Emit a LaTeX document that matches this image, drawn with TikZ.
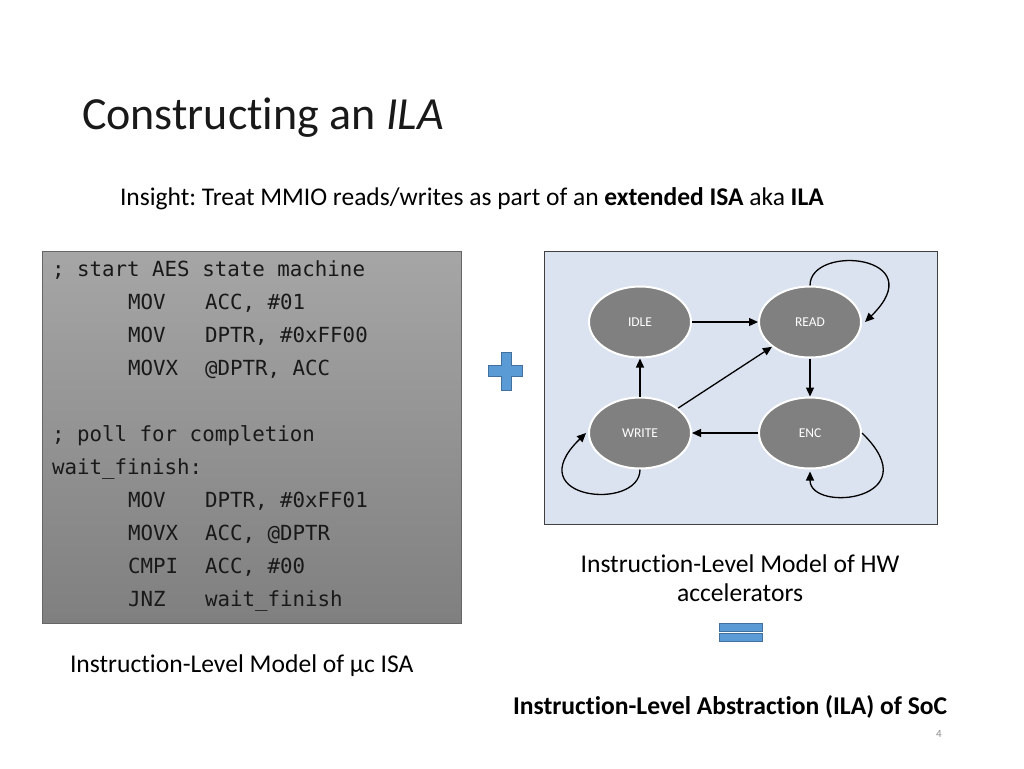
\documentclass[tikz,border=0pt]{standalone}
\usepackage{fontspec}
\setmainfont{Carlito}[Ligatures=NoCommon]
\newfontfamily\codefont{DejaVu Sans Mono}
\usetikzlibrary{shapes.geometric,arrows.meta}
\definecolor{stategray}{RGB}{128,128,128}
\definecolor{fsmbg}{RGB}{219,227,240}
\definecolor{blueshape}{RGB}{91,155,213}
\definecolor{blueedge}{RGB}{65,113,156}
\frenchspacing
\begin{document}
\begin{tikzpicture}[x=1pt,y=-1pt,
  txt/.style={anchor=base west,inner sep=0,outer sep=0},
  code/.style={txt,font=\codefont\fontsize{20.8}{24}\selectfont,text=black!90},
  state/.style={ellipse,fill=stategray,draw=white,line width=2pt,minimum width=102pt,minimum height=71pt,inner sep=0,text=white,font=\fontsize{13.5}{15}\selectfont},
  conn/.style={line width=1.3pt,-{Triangle[length=9pt,width=8pt]}},
  captxt/.style={anchor=base,inner sep=0,outer sep=0,font=\fontsize{25.6}{30}\selectfont},
  blueshp/.style={fill=blueshape,draw=blueedge,line width=0.8pt}]
\useasboundingbox (0,0) rectangle (1024,768);
\fill[white] (0,0) rectangle (1024,768);

% title
\node[txt,font=\fontsize{46}{54}\selectfont,text=black!90] (title) at (82,129) {Constructing an \textit{ILA}};
\node[txt,font=\fontsize{25.5}{30}\selectfont] (insight) at (120,205) {Insight: Treat MMIO reads/writes as part of an \textbf{extended ISA} aka \textbf{ILA}};

% code box
\shade[top color=black!35,bottom color=black!50,draw=black!60,line width=1pt] (42,251) rectangle (461,623);
\node[code] (c1) at (52,276) {; start AES state machine};
\node[code] (c2a) at (128,309) {MOV};  \node[code] (c2b) at (205,309) {ACC, \#01};
\node[code] (c3a) at (128,342) {MOV};  \node[code] (c3b) at (205,342) {DPTR, \#0xFF00};
\node[code] (c4a) at (128,375) {MOVX}; \node[code] (c4b) at (205,375) {@DPTR, ACC};
\node[code] (c5) at (52,441) {; poll for completion};
\node[code] (c6) at (52,474) {wait\_finish:};
\node[code] (c7a) at (128,507) {MOV};  \node[code] (c7b) at (205,507) {DPTR, \#0xFF01};
\node[code] (c8a) at (128,540) {MOVX}; \node[code] (c8b) at (205,540) {ACC, @DPTR};
\node[code] (c9a) at (128,573) {CMPI}; \node[code] (c9b) at (205,573) {ACC, \#00};
\node[code] (c10a) at (128,606) {JNZ}; \node[code] (c10b) at (205,606) {wait\_finish};

% plus
\path[blueshp] (501,352) -- (511,352) -- (511,365) -- (522,365) -- (522,376) -- (511,376) -- (511,390) -- (501,390) -- (501,376) -- (488,376) -- (488,365) -- (501,365) -- cycle;

% FSM box
\draw[fill=fsmbg,draw=black!75,line width=1pt] (544,251) rectangle (937,524);
\node[state] (idle) at (640,322) {IDLE};
\node[state] (read) at (810,322) {READ};
\node[state] (write) at (640,433) {WRITE};
\node[state] (enc) at (810,433) {ENC};
\draw[conn] (idle) -- (read);
\draw[conn] (read) -- (enc);
\draw[conn] (enc) -- (write);
\draw[conn] (write) -- (idle);
\draw[conn] (write) -- (read);
\draw[conn] (read.north) .. controls +(0,-42) and +(69,-67) .. ([xshift=3pt]read.east);
\draw[conn] (enc.east) .. controls +(69,67) and +(0,42) .. ([yshift=-2pt]enc.south);
\draw[conn] (write.south) .. controls +(0,42) and +(-69,67) .. ([xshift=-2pt]write.west);

% captions
\node[captxt] (hw1) at (740,572) {Instruction-Level Model of HW};
\node[captxt] (hw2) at (740,601) {accelerators};
\path[blueshp] (719,623) rectangle (762,631);
\path[blueshp] (719,633) rectangle (762,641);
\node[txt,font=\fontsize{25.6}{30}\selectfont] (uc) at (70,672) {Instruction-Level Model of µc ISA};
\node[txt,font=\bfseries\fontsize{25.6}{30}\selectfont] (ila) at (513,714) {Instruction-Level Abstraction (ILA) of SoC};
\node[txt,font=\fontsize{11}{13}\selectfont,text=black!45] (pg) at (936,737) {4};
\end{tikzpicture}
\end{document}
